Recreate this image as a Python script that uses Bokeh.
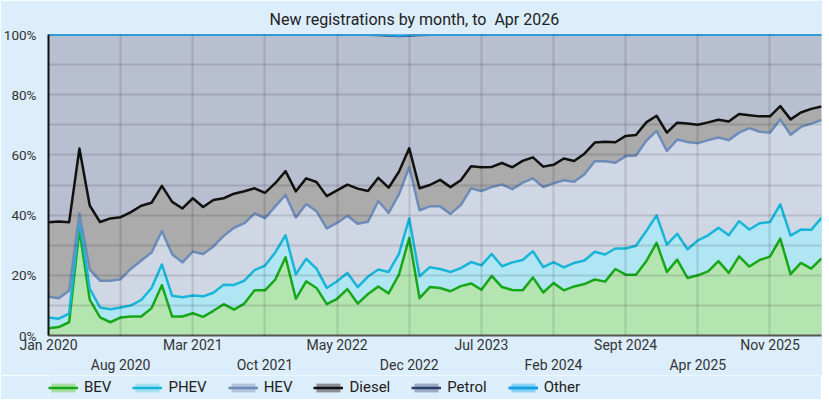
import numpy as np
from bokeh.plotting import figure
from bokeh.layouts import column
from bokeh.models import Range1d, FixedTicker, LinearAxis, Legend, LegendItem, PrintfTickFormatter
from bokeh.embed import file_html
from bokeh.resources import INLINE

# ---- data: cumulative share (%) of new registrations, Jan 2020 .. Apr 2026 ----
n_months = 76
bev = [2.4, 2.8, 4.4, 35.2, 11.9, 6.0, 4.4, 6.0, 6.3, 6.3,
       9.1, 16.7, 6.3, 6.3, 7.4, 6.2, 8.2, 10.4, 8.6, 10.6,
       15.0, 15.0, 18.6, 26.0, 12.2, 18.0, 15.8, 10.4, 12.2, 15.4,
       10.6, 13.8, 16.3, 14.0, 20.2, 32.4, 12.4, 16.1, 15.8, 14.7,
       16.4, 17.3, 15.2, 19.8, 16.1, 15.1, 15.0, 19.3, 14.3, 17.4,
       15.0, 16.3, 17.1, 18.6, 17.9, 22.1, 20.2, 20.2, 24.7, 30.8,
       21.1, 25.2, 19.1, 20.0, 21.3, 24.7, 20.8, 26.3, 22.9, 25.1,
       26.2, 32.2, 20.4, 24.1, 22.2, 25.6]
phev = [6.0, 5.6, 7.3, 38.6, 15.6, 9.3, 8.7, 9.3, 10.0, 11.8,
        15.8, 23.6, 13.2, 12.7, 13.3, 13.0, 14.2, 16.9, 16.8, 18.2,
        21.7, 23.2, 27.6, 33.3, 20.3, 25.5, 22.2, 15.8, 18.0, 20.8,
        16.1, 19.6, 21.9, 21.1, 27.1, 38.9, 19.7, 22.7, 22.1, 21.1,
        22.4, 24.4, 23.3, 27.1, 23.0, 24.3, 25.1, 28.0, 22.7, 24.4,
        22.6, 24.1, 24.9, 27.8, 26.9, 28.9, 28.9, 29.8, 34.7, 39.9,
        30.2, 33.8, 28.6, 31.6, 33.3, 35.8, 33.3, 38.0, 35.2, 37.3,
        37.7, 43.6, 33.2, 35.2, 35.1, 39.1]
hev = [12.9, 12.4, 14.9, 40.6, 21.9, 18.2, 18.2, 18.7, 22.2, 24.9,
       27.6, 34.7, 27.0, 24.3, 27.9, 27.1, 29.6, 33.1, 35.8, 37.3,
       40.6, 39.0, 42.9, 46.7, 39.2, 43.7, 41.3, 35.6, 37.4, 39.8,
       37.1, 37.8, 44.7, 40.7, 46.9, 56.0, 41.6, 42.9, 42.9, 40.4,
       43.3, 48.9, 48.0, 49.3, 50.2, 48.6, 50.8, 52.2, 49.3, 50.6,
       51.6, 51.1, 53.6, 57.9, 57.9, 57.4, 59.6, 59.8, 64.7, 68.0,
       61.3, 65.1, 64.3, 63.9, 64.9, 65.8, 64.9, 67.4, 68.9, 67.7,
       67.4, 71.8, 66.7, 69.3, 70.4, 71.6]
diesel = [37.6, 37.9, 37.6, 62.1, 43.2, 37.7, 38.9, 39.3, 41.0, 43.1,
          44.1, 49.7, 44.4, 42.2, 45.6, 42.7, 45.0, 45.6, 47.1, 47.9,
          48.9, 47.4, 50.6, 54.6, 47.9, 52.2, 51.0, 46.3, 48.2, 50.1,
          48.8, 48.0, 52.4, 49.1, 54.4, 62.2, 48.9, 50.0, 51.7, 49.3,
          51.6, 56.2, 55.9, 56.0, 57.3, 55.9, 58.0, 59.2, 56.1, 56.7,
          58.8, 58.0, 60.4, 64.1, 64.4, 64.2, 66.3, 66.6, 70.8, 73.0,
          67.4, 70.7, 70.4, 70.0, 70.8, 71.7, 71.1, 73.6, 73.2, 72.8,
          72.8, 76.2, 71.8, 74.1, 75.3, 76.1]
petrol = [99.9, 99.9, 99.9, 99.9, 99.9, 99.9, 99.9, 99.9, 99.9, 99.9,
          99.9, 99.9, 99.9, 99.9, 99.9, 99.9, 99.9, 99.9, 99.9, 99.9,
          99.9, 99.9, 99.9, 99.9, 99.9, 99.9, 99.9, 99.9, 99.9, 99.9,
          99.9, 99.9, 99.8, 99.7, 99.5, 99.7, 99.8, 99.9, 99.9, 99.9,
          99.9, 99.9, 99.9, 99.9, 99.9, 99.9, 99.9, 99.9, 99.9, 99.9,
          99.9, 99.9, 99.9, 99.9, 99.9, 99.9, 99.9, 99.9, 99.9, 99.9,
          99.9, 99.9, 99.9, 99.9, 99.9, 99.9, 99.9, 99.9, 99.9, 99.9,
          99.9, 99.9, 99.9, 99.9, 99.9, 99.9]
other = [100.0] * 33 + [99.9, 99.7, 99.9] + [100.0] * 40

series_names = ["BEV", "PHEV", "HEV", "Diesel", "Petrol", "Other"]
line_colors = ["#17a81a", "#17b6d9", "#6e8cb8", "#111111", "#2b3f6b", "#1b9fe3"]
fill_colors = ["#b4e5b0", "#b0e6f3", "#d0d7e4", "#ababab", "#b8bfd0", "#8fd3f7"]
legend_fills = ["#a6dea2", "#a5e1f1", "#b4c4dd", "#8c9096", "#9dabc4", "#88d2f8"]
line_widths = [2.5, 2.5, 2.5, 2.5, 2.5, 3.0]

row1_ticks = [0, 14, 28, 42, 56, 70]
row1_labels = ["Jan 2020", "Mar 2021", "May 2022", "Jul 2023", "Sept 2024", "Nov 2025"]
row2_ticks = [7, 21, 35, 49, 63]
row2_labels = ["Aug 2020", "Oct 2021", "Dec 2022", "Feb 2024", "Apr 2025"]
y_ticks = [0, 20, 40, 60, 80, 100]
y_grid = [10, 20, 30, 40, 50, 60, 70, 80, 90]

FONT = "Roboto"
BG = "#dcedfc"

x = np.arange(n_months)
tops = [np.array(s, dtype=float) for s in (bev, phev, hev, diesel, petrol, other)]
bottoms = [np.zeros(n_months)] + tops[:-1]

p = figure(frame_width=773, frame_height=301, output_backend="svg", toolbar_location=None,
           x_range=Range1d(0, n_months - 1), y_range=Range1d(0, 100),
           min_border_left=47, min_border_right=1, min_border_top=34, min_border_bottom=0,
           background_fill_color="#b8bfd0", border_fill_color=BG, outline_line_color=None)

p.title.text = "New registrations by month, to\u00a0 Apr 2026"
p.title.text_font = FONT
p.title.text_font_size = "16px"
p.title.text_font_style = "normal"
p.title.text_color = "#222222"
p.title.align = "left"
p.title.offset = 221
p.title.standoff = 12

for b, t, fc in zip(bottoms, tops, fill_colors):
    p.varea(x=x, y1=b, y2=t, fill_color=fc, fill_alpha=1.0)
for t, lc, lw in zip(tops, line_colors, line_widths):
    p.line(x=x, y=t, line_color=lc, line_width=lw, line_join="round")

# axes
def style_x(ax):
    ax.major_tick_line_color = None
    ax.minor_tick_line_color = None
    ax.major_tick_out = 0
    ax.major_tick_in = 0
    ax.minor_tick_out = 0
    ax.minor_tick_in = 0
    ax.axis_label_standoff = 0
    ax.major_label_standoff = 1
    ax.major_label_text_font = FONT
    ax.major_label_text_font_size = "14px"
    ax.major_label_text_color = "#333333"

p.xaxis.ticker = FixedTicker(ticks=row1_ticks)
p.xaxis.major_label_overrides = {t: l for t, l in zip(row1_ticks, row1_labels)}
p.xaxis.axis_line_color = "#555555"
p.xaxis.axis_line_width = 2
style_x(p.xaxis[0])

ax2 = LinearAxis(ticker=FixedTicker(ticks=row2_ticks),
                 major_label_overrides={t: l for t, l in zip(row2_ticks, row2_labels)},
                 axis_line_color=None)
style_x(ax2)
p.add_layout(ax2, "below")

p.yaxis.ticker = FixedTicker(ticks=y_ticks)
p.yaxis.formatter = PrintfTickFormatter(format="%d%%")
p.yaxis.axis_line_color = "#111111"
p.yaxis.axis_line_width = 2
p.yaxis.major_tick_line_color = None
p.yaxis.minor_tick_line_color = None
p.yaxis.major_tick_out = 0
p.yaxis.minor_tick_out = 0
p.yaxis.major_label_standoff = 12
p.yaxis.major_label_text_font = FONT
p.yaxis.major_label_text_font_size = "13.5px"
p.yaxis.major_label_text_color = "#333333"

p.xgrid.ticker = FixedTicker(ticks=sorted(row1_ticks + row2_ticks))
p.ygrid.ticker = FixedTicker(ticks=y_grid)
for g in (p.xgrid, p.ygrid):
    g.grid_line_color = "#000000"
    g.grid_line_alpha = 0.12
    g.grid_line_width = 2
    g.level = "overlay"

# legend strip below the chart: same series drawn outside its visible range,
# so only the legend swatches show
leg = figure(width=821, height=24, output_backend="svg", toolbar_location=None,
             x_range=Range1d(0, n_months - 1), y_range=Range1d(1000, 1001),
             x_axis_type=None, y_axis_type=None,
             min_border_left=47, min_border_right=1, min_border_top=0, min_border_bottom=0,
             background_fill_color=BG, border_fill_color=BG, outline_line_color=None)
leg.grid.visible = False
items = []
for n, b, t, lf, lc, lw in zip(series_names, bottoms, tops, legend_fills, line_colors, line_widths):
    a = leg.varea(x=x, y1=b, y2=t, fill_color=lf)
    l = leg.line(x=x, y=t, line_color=lc, line_width=lw)
    items.append(LegendItem(label=n, renderers=[a, l]))
legend = Legend(items=items, orientation="horizontal", location="left",
                label_text_font=FONT, label_text_font_size="15px", label_text_color="#222222",
                glyph_width=30, glyph_height=11, label_standoff=6, spacing=21,
                padding=0, margin=0, background_fill_alpha=0, border_line_color=None)
leg.add_layout(legend, "center")

page = column(p, leg, spacing=0)
open("out.html", "w").write(file_html(page, INLINE))
